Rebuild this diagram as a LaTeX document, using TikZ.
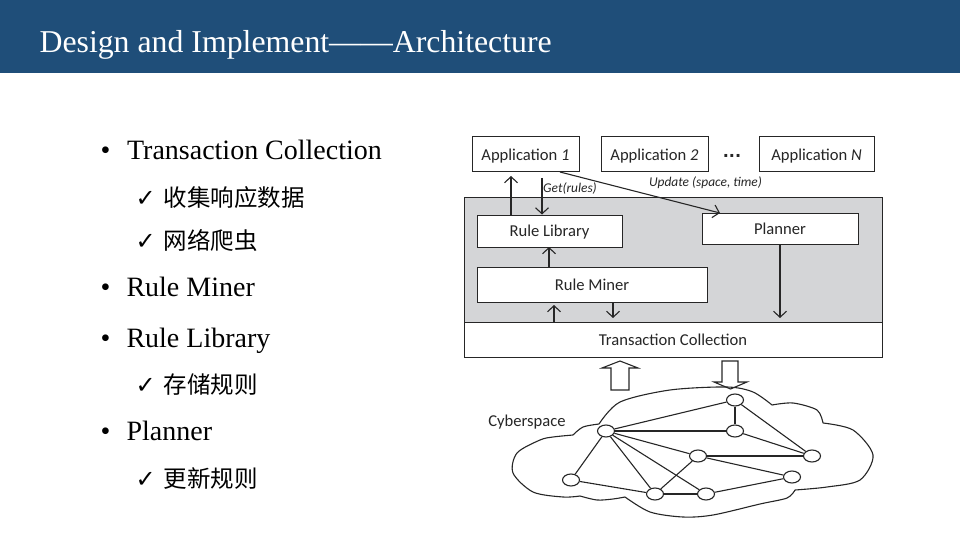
\documentclass[tikz,border=0pt]{standalone}
\usepackage{fontspec}
\usepackage[dvipsnames]{xcolor}
\usetikzlibrary{shapes.geometric,arrows.meta}
\setmainfont{Liberation Serif}
\newfontfamily\cjk{Noto Sans CJK SC}
\newfontfamily\diagfont{Carlito}
\newfontfamily\symfont{DejaVu Sans}
\definecolor{titleblue}{HTML}{1F4E79}
\definecolor{panelgrey}{HTML}{D4D5D7}
\definecolor{inkgrey}{HTML}{262626}

\begin{document}
\begin{tikzpicture}[x=1pt,y=-1pt,>={Straight Barb[length=6pt,width=13pt]},line width=1.1pt,draw=inkgrey,
    title text/.style={anchor=base west,text=white,inner sep=0pt,font=\fontsize{31.8}{34}\selectfont},
    item text/.style={anchor=base west,inner sep=0pt,font=\fontsize{28}{30}\selectfont},
    tick text/.style={anchor=base west,inner sep=0pt,font=\fontsize{23.5}{26}\selectfont},
    box node/.style={draw=inkgrey,fill=white,inner sep=0pt,text depth=0pt,line width=1pt,font=\diagfont\fontsize{16.6}{18}\selectfont,text=inkgrey},
    note node/.style={inner sep=0pt,font=\diagfont\itshape\fontsize{13.4}{15}\selectfont,text=inkgrey},
    net node/.style={ellipse,draw=inkgrey,fill=white,inner sep=0pt,minimum width=17pt,minimum height=12pt}]
    \useasboundingbox (0,0) rectangle (960,540);
    \fill[titleblue] (0,0) rectangle (960,73);
    \node[title text] (title) at (39,53) {Design and Implement——Architecture};

    \node[item text] (item1) at (100,160) {\makebox[26.5pt][l]{•}Transaction Collection};
    \node[tick text] (tick1) at (135,206) {\makebox[28pt][l]{\symfont\fontsize{24}{24}\selectfont ✓}\cjk 收集响应数据};
    \node[tick text] (tick2) at (135,249) {\makebox[28pt][l]{\symfont\fontsize{24}{24}\selectfont ✓}\cjk 网络爬虫};
    \node[item text] (item2) at (100,296) {\makebox[26pt][l]{•}Rule Miner};
    \node[item text] (item3) at (100,347) {\makebox[26pt][l]{•}Rule Library};
    \node[tick text] (tick3) at (135,393) {\makebox[28pt][l]{\symfont\fontsize{24}{24}\selectfont ✓}\cjk 存储规则};
    \node[item text] (item4) at (100,440) {\makebox[26pt][l]{•}Planner};
    \node[tick text] (tick4) at (135,487) {\makebox[28pt][l]{\symfont\fontsize{24}{24}\selectfont ✓}\cjk 更新规则};

    % architecture
    \node[box node,fill=panelgrey,minimum width=418pt,minimum height=125pt] (panel) at (673,260) {};
    \node[box node,minimum width=418pt,minimum height=35pt] (collection) at (673,340) {Transaction Collection};
    \node[box node,minimum width=107pt,minimum height=35pt] (app1) at (525.5,154.5) {Application \textit{1}};
    \node[box node,minimum width=107pt,minimum height=35pt] (app2) at (654.5,154.5) {Application \textit{2}};
    \node[box node,minimum width=115pt,minimum height=35pt] (appn) at (816.5,154.5) {Application \textit{N}};
    \node[font=\symfont\bfseries\fontsize{16}{18}\selectfont,inner sep=0pt,text=inkgrey,anchor=base] (dots) at (732,158) {...};
    \node[box node,minimum width=145pt,minimum height=32pt] (library) at (549.5,231) {Rule Library};
    \node[box node,minimum width=156pt,minimum height=31pt] (planner) at (780,228.5) {Planner};
    \node[box node,minimum width=230pt,minimum height=35pt] (miner) at (592,284.5) {Rule Miner};
    \node[note node] (get) at (570,189) {Get(rules)};
    \node[note node] (update) at (705.5,183) {Update (space, time)};
    \node[inner sep=0pt,font=\diagfont\fontsize{16.6}{18}\selectfont,text=inkgrey] (cyber) at (527,422) {Cyberspace};

    \coordinate (libup) at (511,176);
    \coordinate (getdown) at (542,178);
    \coordinate (updatefrom) at (560,172);
    \coordinate (updateto) at (720,213);
    \coordinate (minerup) at (549,247);
    \coordinate (colup) at (554,305);
    \coordinate (coldown) at (613,318);
    \coordinate (plandown) at (780,318);

    \draw[->] (libup |- library.north) -- (libup);
    \draw[->] (getdown) -- (getdown |- library.north);
    \draw[->] (updatefrom) -- (updateto);
    \draw[->] (minerup |- miner.north) -- (minerup);
    \draw[->] (colup |- collection.north) -- (colup);
    \draw[->] (coldown |- miner.south) -- (coldown);
    \draw[->] (plandown |- planner.south) -- (plandown);

    % block arrows
    \draw (611,390) -- (611,368) -- (602,368) -- (620,361) -- (638,368) -- (629,368) -- (629,390) -- cycle;
    \draw (722,361) -- (722,382) -- (714,382) -- (730.5,389) -- (747,382) -- (738,382) -- (738,361) -- cycle;

    % cloud
    \draw plot[smooth] coordinates {(599,424) (620,402) (670,390) (727,387) (753,392) (772,405)};
    \draw plot[smooth] coordinates {(772,405) (793,403) (817,410) (823,423)};
    \draw plot[smooth] coordinates {(823,423) (853,430) (873,455) (860,480) (827,487) (795,490)};
    \draw plot[smooth] coordinates {(795,490) (787,498) (760,504) (713,515) (683,517) (650,512) (625,497)};
    \draw plot[smooth] coordinates {(625,497) (613,499) (597,500) (580,496)};
    \draw plot[smooth] coordinates {(580,496) (563,497) (533,492) (513,473) (517,453) (540,440) (553,437) (573,435)};
    \draw plot[smooth] coordinates {(573,435) (583,427) (599,424)};

    % network
    \node[net node] (1) at (735,400) {};
    \node[net node] (2) at (735,431) {};
    \node[net node] (3) at (606,431) {};
    \node[net node] (4) at (698,456) {};
    \node[net node] (5) at (812,456) {};
    \node[net node] (6) at (792,477) {};
    \node[net node] (7) at (571,480) {};
    \node[net node] (8) at (655,494) {};
    \node[net node] (9) at (706,494) {};
    \path[draw=inkgrey]
        (3) edge (1)
        (3) edge (2)
        (1) edge (2)
        (1) edge (5)
        (2) edge (5)
        (3) edge (4)
        (4) edge (5)
        (4) edge (6)
        (3) edge (7)
        (3) edge (8)
        (3) edge (9)
        (4) edge (8)
        (7) edge (8)
        (8) edge (9)
        (9) edge (6)
        ;
\end{tikzpicture}
\end{document}
